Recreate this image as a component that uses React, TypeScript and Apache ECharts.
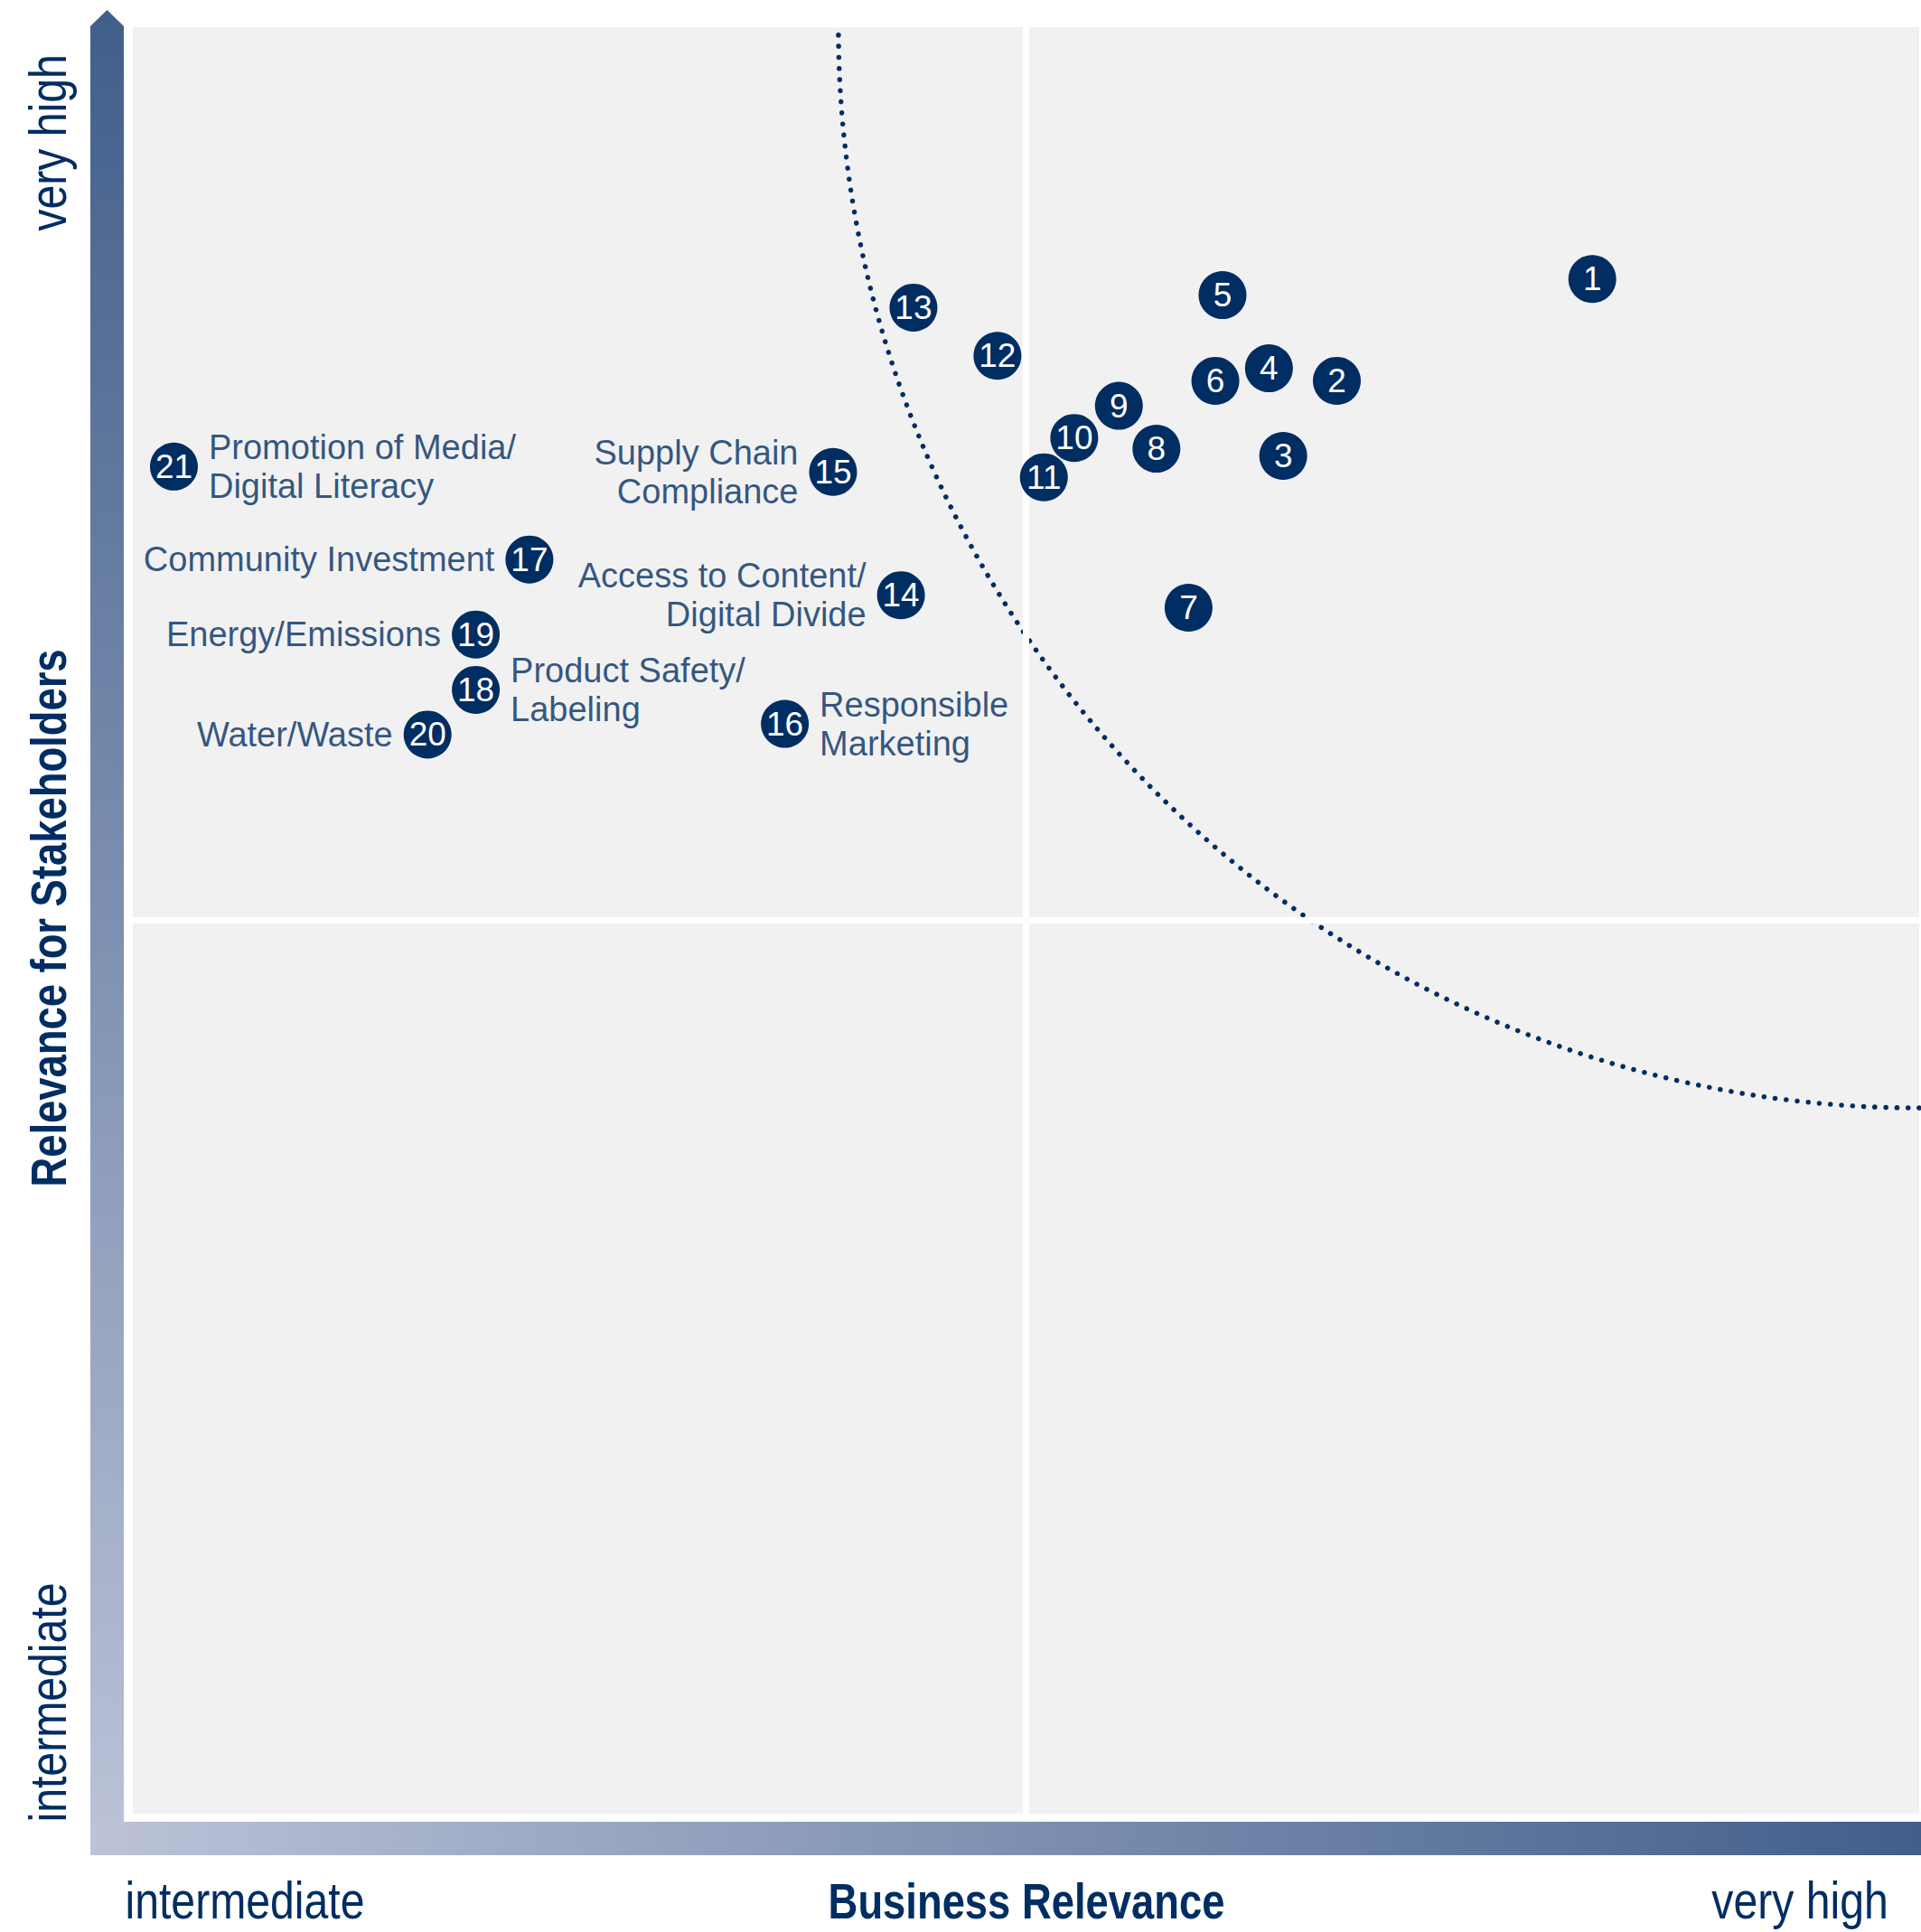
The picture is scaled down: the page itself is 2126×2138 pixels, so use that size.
import { useEffect, useRef } from 'react';
import * as echarts from 'echarts';

// ---------- data ----------
const topicIds = [1, 2, 3, 4, 5, 6, 7, 8, 9, 10, 11, 12, 13, 14, 15, 16, 17, 18, 19, 20, 21];
const businessRelevance = [8.17, 6.74, 6.44, 6.36, 6.10, 6.06, 5.91, 5.73, 5.52, 5.27, 5.10, 4.84, 4.37, 4.30, 3.92, 3.65, 2.22, 1.92, 1.92, 1.65, 0.23];
const stakeholderRelevance = [8.59, 8.02, 7.60, 8.09, 8.50, 8.02, 6.75, 7.64, 7.88, 7.70, 7.48, 8.16, 8.43, 6.82, 7.51, 6.10, 7.02, 6.29, 6.60, 6.04, 7.54];
const topicNames = [
  '', '', '', '', '', '', '', '', '', '', '', '', '',
  'Access to Content/\nDigital Divide',
  'Supply Chain\nCompliance',
  'Responsible\nMarketing',
  'Community Investment',
  'Product Safety/\nLabeling',
  'Energy/Emissions',
  'Water/Waste',
  'Promotion of Media/\nDigital Literacy',
];
const labelSides = [
  '', '', '', '', '', '', '', '', '', '', '', '', '',
  'left', 'left', 'right', 'left', 'right', 'left', 'left', 'right',
];
const axisMin = 0;
const axisMax = 10;
const quadrantSplit = 5;
const thresholdRadius = 6.05;
const xTickLabels = ['intermediate', 'very high'];
const yTickLabels = ['intermediate', 'very high'];
const xAxisTitle = 'Business Relevance';
const yAxisTitle = 'Relevance for Stakeholders';

// ---------- styles ----------
const NAVY = '#002D62';
const BG = '#F1F1F1';
const FONT = "'Liberation Sans', Arial, sans-serif";
const BAR_DARK = '#415E8A';
const BAR_LIGHT = '#BCC3D8';
const REG_SCALE = 0.845;
const BOLD_SCALE = 0.825;

function axisText(text: string, x: number, y: number, rotated: boolean, bold: boolean) {
  return {
    type: 'text',
    x,
    y,
    rotation: rotated ? Math.PI / 2 : 0,
    scaleX: bold ? BOLD_SCALE : REG_SCALE,
    scaleY: 1,
    style: {
      text,
      fontSize: bold ? 55 : 57,
      fontWeight: bold ? 'bold' : 'normal',
      fontFamily: FONT,
      fill: NAVY,
      align: 'center',
      textAlign: 'center',
      verticalAlign: 'middle',
      textVerticalAlign: 'middle',
    },
  };
}

export default function App() {
  const ref = useRef<HTMLDivElement>(null);

  useEffect(() => {
    if (!ref.current) return;
    const chart = echarts.init(ref.current, undefined, { renderer: 'svg' });

    const circleData = topicIds.map((id, i) => [businessRelevance[i], stakeholderRelevance[i], id]);
    const nameData = topicIds
      .map((id, i) => ({ id, i }))
      .filter((d) => topicNames[d.i] !== '')
      .map((d) => ({
        value: [businessRelevance[d.i], stakeholderRelevance[d.i]],
        name: topicNames[d.i],
        label: { position: labelSides[d.i] },
      }));

    const option: any = {
      animation: false,
      grid: {
        left: 147,
        top: 30,
        width: 1977,
        height: 1977,
        show: true,
        backgroundColor: BG,
        borderWidth: 0,
      },
      xAxis: { type: 'value', min: axisMin, max: axisMax, show: false },
      yAxis: { type: 'value', min: axisMin, max: axisMax, show: false },
      graphic: [
        {
          type: 'polygon',
          z: 1,
          shape: { points: [[100, 29], [118.5, 11], [137, 29], [137, 2053], [100, 2053]] },
          style: {
            fill: new echarts.graphic.LinearGradient(0, 0, 0, 1, [
              { offset: 0, color: BAR_DARK },
              { offset: 1, color: BAR_LIGHT },
            ]),
          },
        },
        {
          type: 'rect',
          z: 2,
          shape: { x: 100, y: 2016, width: 2026, height: 37 },
          style: {
            fill: new echarts.graphic.LinearGradient(0, 0, 1, 0, [
              { offset: 0, color: BAR_LIGHT },
              { offset: 1, color: BAR_DARK },
            ]),
          },
        },
        axisText(xTickLabels[0], 271, 2103, false, false),
        axisText(xTickLabels[1], 1992, 2103, false, false),
        axisText(xAxisTitle, 1136, 2104, false, true),
        axisText(yTickLabels[0], 53, 1884, true, false),
        axisText(yTickLabels[1], 53, 158, true, false),
        axisText(yAxisTitle, 54, 1016, true, true),
      ],
      series: [
        {
          type: 'scatter',
          silent: true,
          symbolSize: 0,
          data: [],
          z: 1,
          markLine: {
            silent: true,
            symbol: ['none', 'none'],
            label: { show: false },
            lineStyle: { color: '#FFFFFF', width: 7, type: 'solid' },
            data: [{ xAxis: quadrantSplit }, { yAxis: quadrantSplit }],
          },
        },
        {
          type: 'custom',
          silent: true,
          z: 3,
          clip: false,
          data: [[axisMax, axisMax, thresholdRadius]],
          renderItem: (params: any, api: any) => {
            const c = api.coord([api.value(0), api.value(1)]);
            const r = api.size([api.value(2), 0])[0];
            return {
              type: 'arc',
              shape: { cx: c[0], cy: c[1], r, startAngle: Math.PI / 2, endAngle: Math.PI, clockwise: true },
              style: { fill: 'none', stroke: NAVY, lineWidth: 5.5, lineDash: [0.1, 12.2], lineCap: 'round' },
            };
          },
        },
        {
          type: 'scatter',
          silent: true,
          z: 5,
          symbol: 'circle',
          symbolSize: 53,
          itemStyle: { color: NAVY, opacity: 1 },
          data: circleData,
          label: {
            show: true,
            position: 'inside',
            formatter: (p: any) => String(p.value[2]),
            color: '#FFFFFF',
            fontSize: 37,
            fontFamily: FONT,
          },
        },
        {
          type: 'scatter',
          silent: true,
          z: 4,
          symbol: 'circle',
          symbolSize: 53,
          itemStyle: { color: 'rgba(0,0,0,0)' },
          data: nameData,
          label: {
            show: true,
            distance: 12,
            formatter: (p: any) => p.name,
            color: NAVY,
            fontSize: 38,
            lineHeight: 43,
            fontFamily: FONT,
          },
        },
      ],
    };

    chart.setOption(option);
    return () => chart.dispose();
  }, []);

  return (
    <div
      ref={ref}
      style={{ position: 'fixed', left: 0, top: 0, width: 2126, height: 2138, background: '#FFFFFF' }}
    />
  );
}
